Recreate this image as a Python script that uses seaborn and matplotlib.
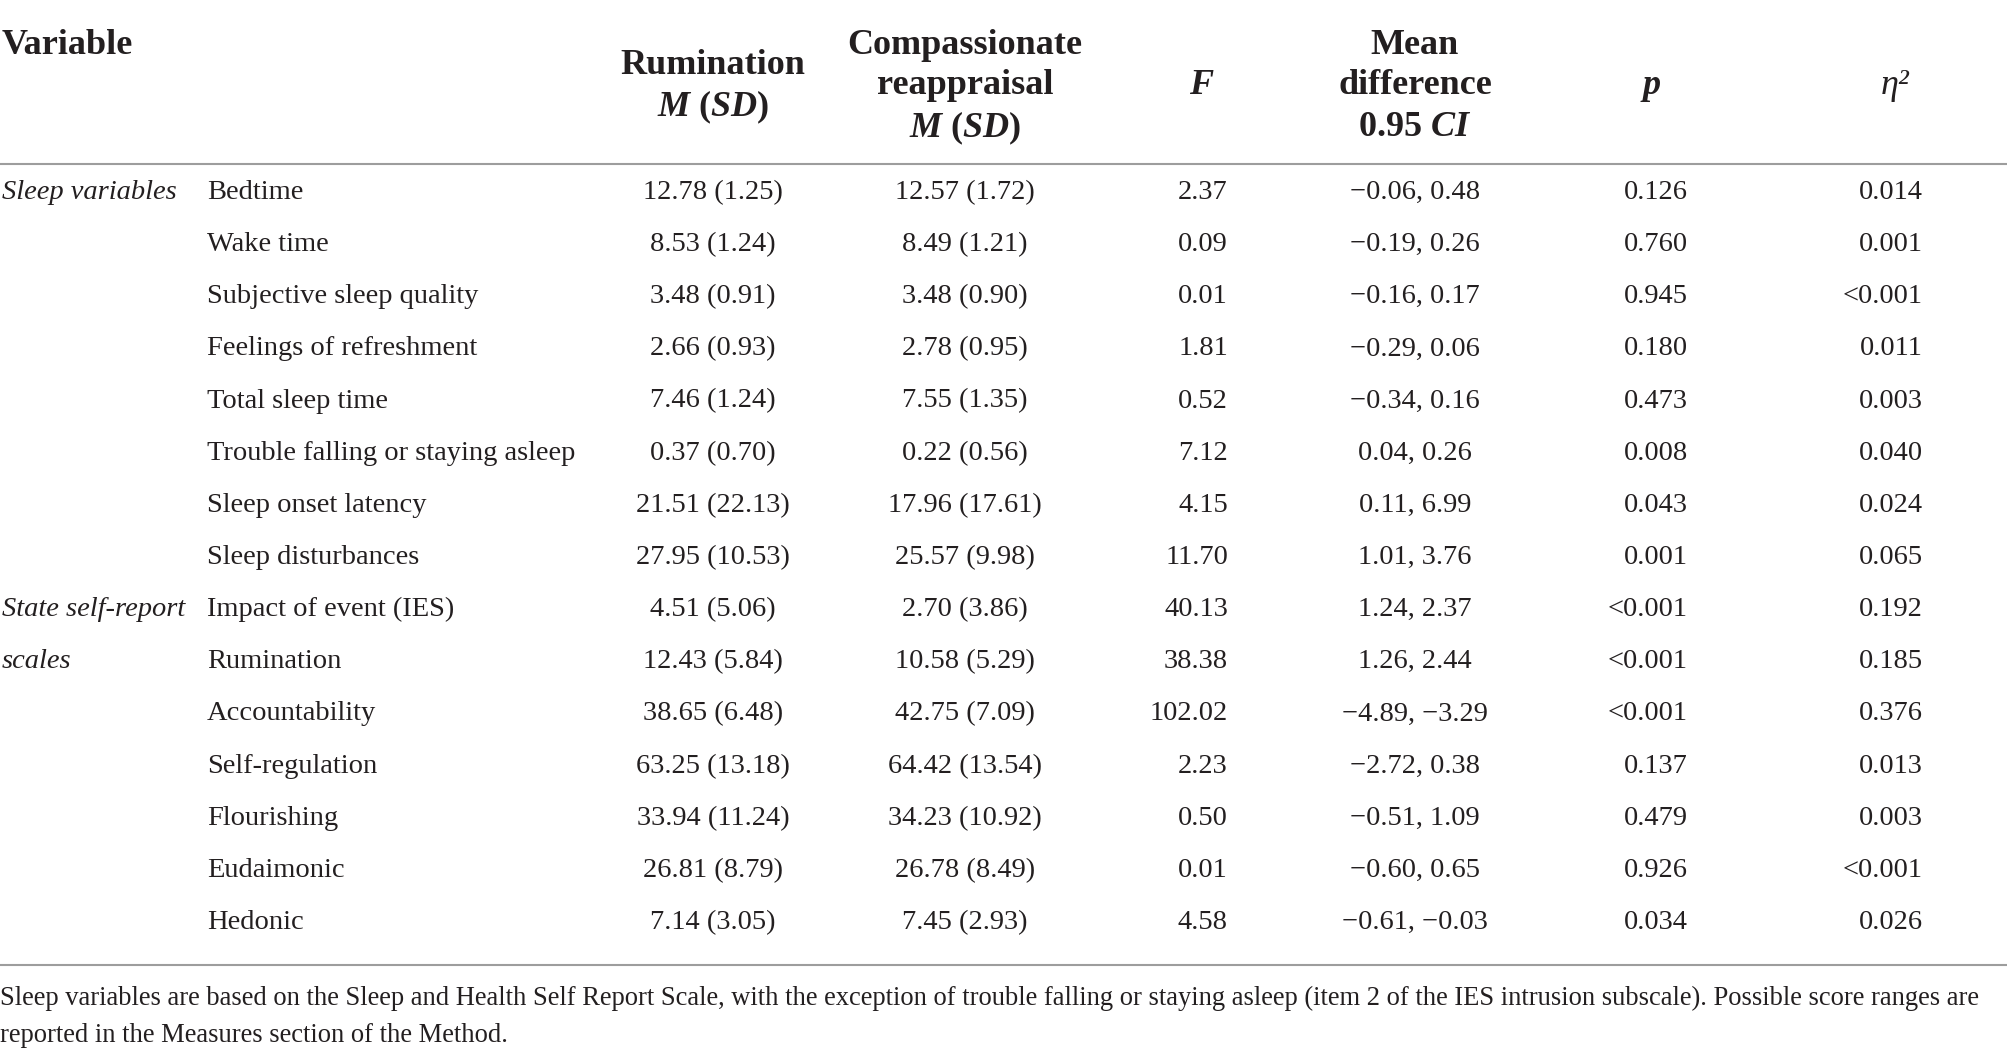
import matplotlib
matplotlib.use("Agg")
import matplotlib.pyplot as plt
import seaborn as sns

# ---------------- data ----------------
group_labels = {0: "Sleep variables", 8: "State self-report", 9: "scales"}
variables = ["Bedtime", "Wake time", "Subjective sleep quality", "Feelings of refreshment",
             "Total sleep time", "Trouble falling or staying asleep", "Sleep onset latency",
             "Sleep disturbances", "Impact of event (IES)", "Rumination", "Accountability",
             "Self-regulation", "Flourishing", "Eudaimonic", "Hedonic"]
rum_m = [12.78, 8.53, 3.48, 2.66, 7.46, 0.37, 21.51, 27.95, 4.51, 12.43, 38.65, 63.25, 33.94, 26.81, 7.14]
rum_sd = [1.25, 1.24, 0.91, 0.93, 1.24, 0.70, 22.13, 10.53, 5.06, 5.84, 6.48, 13.18, 11.24, 8.79, 3.05]
comp_m = [12.57, 8.49, 3.48, 2.78, 7.55, 0.22, 17.96, 25.57, 2.70, 10.58, 42.75, 64.42, 34.23, 26.78, 7.45]
comp_sd = [1.72, 1.21, 0.90, 0.95, 1.35, 0.56, 17.61, 9.98, 3.86, 5.29, 7.09, 13.54, 10.92, 8.49, 2.93]
f_vals = [2.37, 0.09, 0.01, 1.81, 0.52, 7.12, 4.15, 11.70, 40.13, 38.38, 102.02, 2.23, 0.50, 0.01, 4.58]
ci_lo = [-0.06, -0.19, -0.16, -0.29, -0.34, 0.04, 0.11, 1.01, 1.24, 1.26, -4.89, -2.72, -0.51, -0.60, -0.61]
ci_hi = [0.48, 0.26, 0.17, 0.06, 0.16, 0.26, 6.99, 3.76, 2.37, 2.44, -3.29, 0.38, 1.09, 0.65, -0.03]
p_vals = ["0.126", "0.760", "0.945", "0.180", "0.473", "0.008", "0.043", "0.001",
          "<0.001", "<0.001", "<0.001", "0.137", "0.479", "0.926", "0.034"]
eta2 = ["0.014", "0.001", "<0.001", "0.011", "0.003", "0.040", "0.024", "0.065",
        "0.192", "0.185", "0.376", "0.013", "0.003", "<0.001", "0.026"]
footnote = ["Sleep variables are based on the Sleep and Health Self Report Scale, with the exception of "
            "trouble falling or staying asleep (item 2 of the IES intrusion subscale). Possible score ranges are",
            "reported in the Measures section of the Method."]

# ---------------- style ----------------
sns.set_theme(style="white")
plt.rcParams["font.family"] = ["Liberation Serif", "DejaVu Serif"]
plt.rcParams["mathtext.fontset"] = "custom"
plt.rcParams["mathtext.it"] = "Liberation Serif:italic:bold"
plt.rcParams["mathtext.rm"] = "Liberation Serif:bold"
plt.rcParams["mathtext.bf"] = "Liberation Serif:bold"

INK = "#231f20"
BODY = 20.5
HEAD = 26
FOOT = 19.1

def fmt(v):
    return f"{v:.2f}".replace("-", "\u2212")

W, H = 2008, 1055
fig = plt.figure(figsize=(W / 100, H / 100), dpi=100)
ax = fig.add_axes([0, 0, 1, 1])
ax.set_xlim(0, W)
ax.set_ylim(H, 0)
ax.axis("off")
sns.despine(ax=ax, left=True, bottom=True)

# column anchors
x_group, x_var = 2, 207
x_rum, x_comp = 713, 965
x_f_r, x_ci, x_p_r, x_eta_r = 1228, 1415, 1688, 1923

# header
hk = dict(fontsize=HEAD, color=INK, fontweight="bold", va="center_baseline")
ax.text(x_group, 41, "Variable", ha="left", **hk)
ax.text(x_rum, 61.5, "Rumination", ha="center", **hk)
ax.text(x_rum, 102.5, "$M$ ($SD$)", ha="center", **hk)
ax.text(x_comp, 41, "Compassionate", ha="center", **hk)
ax.text(x_comp, 82, "reappraisal", ha="center", **hk)
ax.text(x_comp, 123, "$M$ ($SD$)", ha="center", **hk)
ax.text(1201, 82, "F", ha="center", style="italic", **hk)
ax.text(x_ci, 41, "Mean", ha="center", **hk)
ax.text(x_ci, 82, "difference", ha="center", **hk)
ax.text(x_ci, 123, "0.95 $CI$", ha="center", **hk)
ax.text(1652, 82, "p", ha="center", style="italic", **hk)
ax.text(1895, 82, "\u03b7\u00b2", ha="center", fontsize=HEAD, color=INK,
        style="italic", fontweight="normal", va="center_baseline")

# rules
ax.hlines([164, 965], 0, W, colors="#9d9d9d", linewidth=1.5)

# body rows
y0, step = 189.5, 52.15
bk = dict(fontsize=BODY, color=INK, va="center_baseline")
for i, name in enumerate(variables):
    y = y0 + i * step
    if i in group_labels:
        ax.text(x_group, y, group_labels[i], ha="left", style="italic", **bk)
    ax.text(x_var, y, name, ha="left", **bk)
    ax.text(x_rum, y, f"{fmt(rum_m[i])} ({fmt(rum_sd[i])})", ha="center", **bk)
    ax.text(x_comp, y, f"{fmt(comp_m[i])} ({fmt(comp_sd[i])})", ha="center", **bk)
    ax.text(x_f_r, y, fmt(f_vals[i]), ha="right", **bk)
    ax.text(x_ci, y, f"{fmt(ci_lo[i])}, {fmt(ci_hi[i])}", ha="center", **bk)
    ax.text(x_p_r, y, p_vals[i], ha="right", **bk)
    ax.text(x_eta_r, y, eta2[i], ha="right", **bk)

# footnote
ax.text(0, 995, footnote[0], ha="left", va="center_baseline", fontsize=FOOT, color=INK)
ax.text(0, 1033, footnote[1], ha="left", va="center_baseline", fontsize=FOOT, color=INK)

fig.savefig("out.png", dpi=100, facecolor="white")
